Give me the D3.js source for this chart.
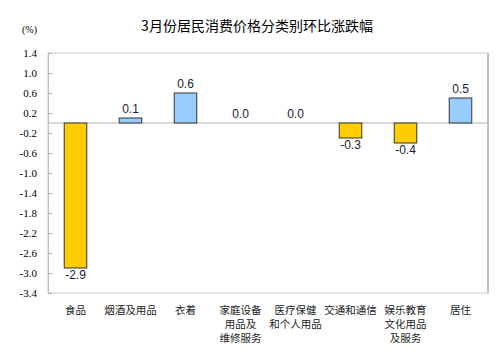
<!DOCTYPE html>
<html><head><meta charset="utf-8">
<script src="https://cdn.jsdelivr.net/npm/d3@7"></script>
<style>body{margin:0;background:#fff}svg{display:block}</style>
</head><body>
<svg id="c" width="500" height="358"></svg>
<script>
const categories = [["食品"],["烟酒及用品"],["衣着"],["家庭设备","用品及","维修服务"],["医疗保健","和个人用品"],["交通和通信"],["娱乐教育","文化用品","及服务"],["居住"]];
const values = [-2.9, 0.1, 0.6, 0.0, 0.0, -0.3, -0.4, 0.5];
const valueLabels = ["-2.9","0.1","0.6","0.0","0.0","-0.3","-0.4","0.5"];
const yTicks = [1.4,1.0,0.6,0.2,-0.2,-0.6,-1.0,-1.4,-1.8,-2.2,-2.6,-3.0,-3.4];
const title = "3月份居民消费价格分类别环比涨跌幅";

const svg = d3.select("#c");
const L=48,R=488,T=53,B=293;
const x = d3.scaleBand().domain(d3.range(values.length)).range([L,R]).paddingInner(0.59).paddingOuter(0.295);
const y = d3.scaleLinear().domain([-3.4,1.4]).range([B,T]);

svg.append("text").attr("x",257).attr("y",31).attr("text-anchor","middle")
  .attr("font-family","'Noto Sans CJK SC',sans-serif").attr("font-size",14).attr("fill","#000").text(title);
svg.append("text").attr("x",22).attr("y",33).attr("font-family","'Liberation Serif',serif").attr("font-size",10).attr("fill","#000").text("(%)");

// frame
svg.append("rect").attr("x",L).attr("y",T).attr("width",R-L).attr("height",B-T)
  .attr("fill","none").attr("stroke","#c8c8c8").attr("stroke-width",1);
svg.append("line").attr("x1",R).attr("x2",R).attr("y1",T).attr("y2",B).attr("stroke","#c0c0c0").attr("stroke-width",2);

// y axis
const ax = svg.append("g").attr("transform",`translate(${L},0)`)
  .call(d3.axisRight(y).tickValues(yTicks).tickSize(4).tickFormat(""));
ax.select(".domain").attr("stroke","#c0c0c0");
ax.selectAll(".tick line").attr("stroke","#b0b0b0");
svg.selectAll(".ylab").data(yTicks).enter().append("text")
  .attr("x",37).attr("y",d=>y(d)+4).attr("text-anchor","end")
  .attr("font-family","'Liberation Serif',serif").attr("font-size",11).attr("fill","#000")
  .text(d=>d.toFixed(1));

// zero line
svg.append("line").attr("x1",L).attr("x2",R).attr("y1",y(0)).attr("y2",y(0)).attr("stroke","#b4b4b4");

// bars
svg.selectAll(".bar").data(values).enter().append("rect")
  .attr("x",(d,i)=>x(i)).attr("width",x.bandwidth())
  .attr("y",d=>y(Math.max(0,d))).attr("height",d=>Math.abs(y(d)-y(0)))
  .attr("fill",d=>d<0?"#ffcc00":"#99ccff").attr("stroke",d=>d===0?"none":"#333").attr("stroke-width",1);

// value labels
svg.selectAll(".vl").data(values).enter().append("text")
  .attr("x",(d,i)=>x(i)+x.bandwidth()/2)
  .attr("y",d=>d<0?y(d)+11:y(d)-5)
  .attr("text-anchor","middle").attr("font-family","'Liberation Sans',Arial,sans-serif")
  .attr("font-size",12).attr("fill","#1a1a33").text((d,i)=>valueLabels[i]);

// category labels
const cg = svg.selectAll(".cat").data(categories).enter().append("text")
  .attr("text-anchor","middle").attr("font-family","'Noto Sans CJK SC',sans-serif")
  .attr("font-size",10.5).attr("fill","#222");
cg.each(function(lines,i){
  d3.select(this).selectAll("tspan").data(lines).enter().append("tspan")
    .attr("x",x(i)+x.bandwidth()/2).attr("y",(d,j)=>314+j*14).text(d=>d);
});
</script>
</body></html>
